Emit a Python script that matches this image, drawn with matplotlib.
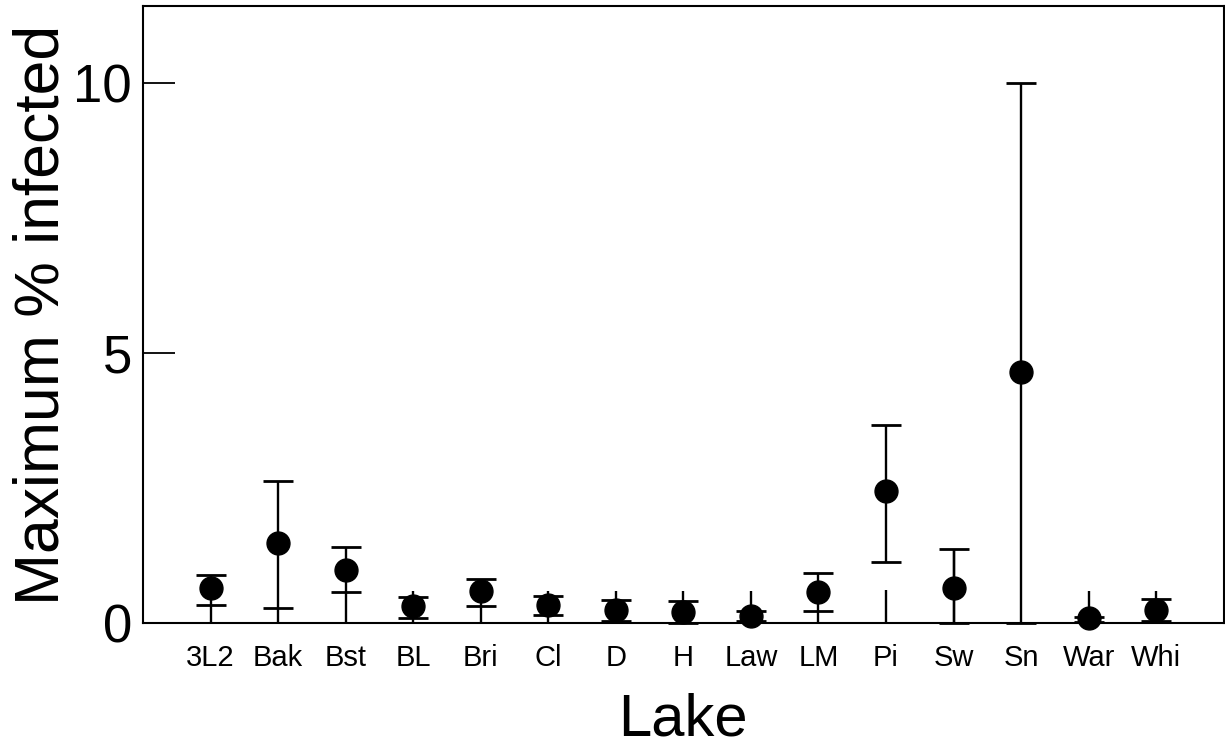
import numpy as np
import matplotlib
matplotlib.use('Agg')
import matplotlib.pyplot as plt

plt.rcParams['font.family'] = ['Liberation Sans', 'DejaVu Sans']

# -----------------------
# Data
# -----------------------
lakes = ['3L2', 'Bak', 'Bst', 'BL', 'Bri', 'Cl', 'D', 'H', 'Law', 'LM',
         'Pi', 'Sw', 'Sn', 'War', 'Whi']
mean_pct = [0.64, 1.49, 0.99, 0.31, 0.59, 0.33, 0.25, 0.21, 0.13, 0.58,
            2.44, 0.65, 4.65, 0.09, 0.25]
ci_low = [0.34, 0.28, 0.57, 0.10, 0.31, 0.14, 0.04, 0.00, 0.04, 0.22,
          1.13, 0.00, 0.00, 0.02, 0.04]
ci_high = [0.89, 2.63, 1.41, 0.49, 0.81, 0.50, 0.43, 0.41, 0.23, 0.92,
           3.67, 1.37, 10.00, 0.12, 0.44]
# second (uncapped) segment drawn from zero
stem_top = [0.34, 0.28, 0.57, 0.60, 0.31, 0.60, 0.60, 0.60, 0.60, 0.22,
            0.61, 1.37, 0.00, 0.60, 0.60]

x = np.arange(1, len(lakes) + 1)
mean_pct = np.array(mean_pct)
yerr = np.vstack([mean_pct - np.array(ci_low), np.array(ci_high) - mean_pct])

fig = plt.figure(figsize=(12.25, 7.51), dpi=100)
ax = fig.add_axes([0.1167, 0.1704, 0.8823, 0.8216])

# uncapped segments from zero
ax.vlines(x, 0, stem_top, colors='black', linewidth=1.7, zorder=2)

# capped intervals + means
ax.errorbar(x, mean_pct, yerr=yerr, fmt='o', color='black', ecolor='black',
            elinewidth=1.7, capsize=10.5, capthick=2.0, markersize=16.5,
            zorder=3, clip_on=False)

ax.set_xlim(0, 16)
ax.set_ylim(0, 11.43)
ax.set_xticks(x)
ax.set_xticklabels(lakes, fontsize=21)
ax.set_yticks([0, 5, 10])
ax.set_yticklabels(['0', '5', '10'], fontsize=38)
ax.tick_params(axis='x', length=0, pad=15)
ax.tick_params(axis='y', direction='in', length=23, width=1.3, pad=8)

for s in ax.spines.values():
    s.set_linewidth(1.5)

ax.set_xlabel('Lake', fontsize=43, labelpad=15)
ax.set_ylabel('Maximum % infected', fontsize=45, labelpad=1)

fig.savefig('out.png', dpi=100)
